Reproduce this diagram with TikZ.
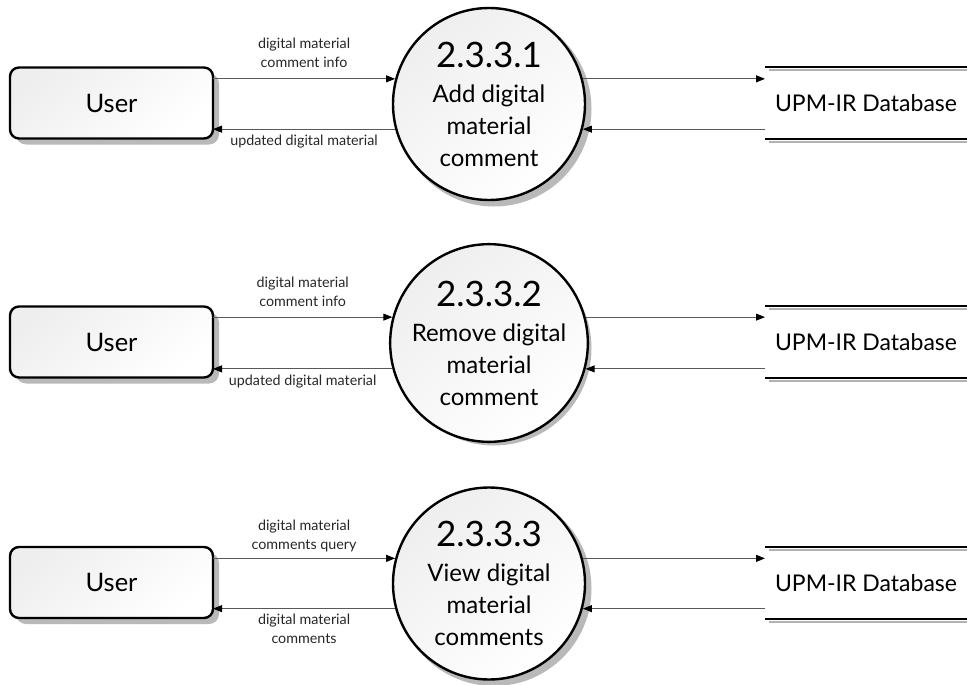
\documentclass[tikz,border=0pt]{standalone}
\usepackage{fontspec}
\setmainfont{Lato}
\usetikzlibrary{arrows.meta}
\tikzset{
  x=1pt, y=-1pt,
  shadowfill/.style={fill=gray!55, draw=none},
  entity/.style={draw=black, line width=2.4pt, rounded corners=9pt,
    minimum width=203pt, minimum height=71pt, inner sep=0pt, outer sep=0pt,
    top color=gray!13, bottom color=white, shading angle=40,
    font=\fontsize{25.5}{28}\selectfont},
  process/.style={circle, draw=black, line width=2.4pt, minimum size=192pt,
    inner sep=0pt, top color=gray!13, bottom color=white, shading angle=40,
    align=center, font=\fontsize{24}{32}\selectfont},
  store/.style={minimum width=202pt, minimum height=72pt, inner sep=0pt, outer sep=0pt,
    anchor=west, font=\fontsize{23}{26}\selectfont},
  storeline/.style={draw=black, line width=2.2pt},
  storeshade/.style={draw=gray!60, line width=2.4pt},
  flow/.style={draw=black!65, line width=0.8pt, -{Triangle[length=9pt,width=7pt,color=black]}},
  lbl/.style={align=center, font=\fontsize{14.3}{19}\selectfont, text=black!85}
}
\newcommand{\procnum}[1]{{\fontsize{35}{40}\selectfont #1}\\[3pt]}
\begin{document}
\begin{tikzpicture}
\useasboundingbox (0,0) rectangle (967,685);

% positions
\coordinate (pu1) at (111.5,103);   \coordinate (pc1) at (489,104);
\coordinate (pu2) at (111.5,342);   \coordinate (pc2) at (489,343);
\coordinate (pu3) at (111.5,582.5); \coordinate (pc3) at (489,583.5);

% shadows (drawn first, so they lie behind the nodes)
\foreach \ent in {pu1,pu2,pu3}{
  \fill[shadowfill, rounded corners=10pt]
    ([xshift=-95.5pt,yshift=29.5pt]\ent) rectangle ([xshift=107.5pt,yshift=-41.5pt]\ent);
}
\foreach \proc in {pc1,pc2,pc3}{
  \fill[shadowfill] ([xshift=5pt,yshift=-5pt]\proc) circle (97.5pt);
}

% ---------- row 1
\node[entity]  (u1) at (pu1) {User};
\node[process] (c1) at (pc1) {\procnum{2.3.3.1}Add digital\\material\\comment};
\node[store]   (d1) at (765,103) {UPM-IR Database};

% ---------- row 2
\node[entity]  (u2) at (pu2) {User};
\node[process] (c2) at (pc2) {\procnum{2.3.3.2}Remove digital\\material\\comment};
\node[store]   (d2) at (765,342) {UPM-IR Database};

% ---------- row 3
\node[entity]  (u3) at (pu3) {User};
\node[process] (c3) at (pc3) {\procnum{2.3.3.3}View digital\\material\\comments};
\node[store]   (d3) at (765,583) {UPM-IR Database};

% store lines
\foreach \d in {d1,d2,d3}{
  \draw[storeshade] ([xshift=4pt,yshift=-3pt]\d.north west) -- ([yshift=-3pt]\d.north east);
  \draw[storeline] (\d.north west) -- (\d.north east);
  \draw[storeshade] ([xshift=4pt,yshift=-3pt]\d.south west) -- ([yshift=-3pt]\d.south east);
  \draw[storeline] (\d.south west) -- (\d.south east);
}

% flows row 1
\draw[flow] (u1.east |- c1.165) -- node[lbl, above=7pt] {digital material\\comment info} (c1.165);
\draw[flow] (c1.195) -- node[lbl, below=2pt] {updated digital material} (u1.east |- c1.195);
\draw[flow] (c1.15) -- (d1.west |- c1.15);
\draw[flow] (d1.west |- c1.-15) -- (c1.-15);

% flows row 2
\draw[flow] (u2.east |- c2.165) -- node[lbl, above=7pt] {digital material\\comment info} (c2.165);
\draw[flow] (c2.195) -- node[lbl, below=2pt] {updated digital material} (u2.east |- c2.195);
\draw[flow] (c2.15) -- (d2.west |- c2.15);
\draw[flow] (d2.west |- c2.-15) -- (c2.-15);

% flows row 3
\draw[flow] (u3.east |- c3.165) -- node[lbl, above=3pt] {digital material\\comments query} (c3.165);
\draw[flow] (c3.195) -- node[lbl, below=1.5pt] {digital material\\comments} (u3.east |- c3.195);
\draw[flow] (c3.15) -- (d3.west |- c3.15);
\draw[flow] (d3.west |- c3.-15) -- (c3.-15);
\end{tikzpicture}
\end{document}
